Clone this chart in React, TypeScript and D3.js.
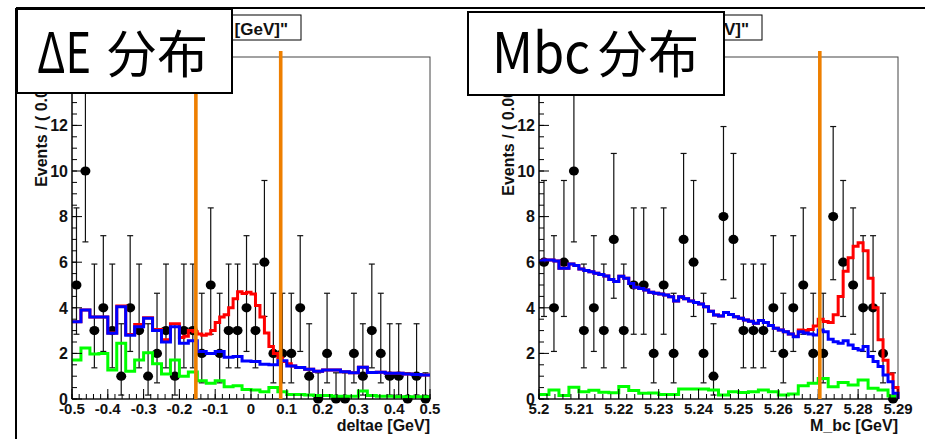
import React from 'react';
import * as d3 from 'd3';

// ---------- data ----------
const DE_COUNTS = [5, 10, 3, 4, 3, 1, 4, 3, 1, 2, 3, 1, 3, 3, 2, 5, 2, 3, 3, 4, 3, 6, 2, 2, 2, 4, 1, 0, 2, 0, 0, 2, 1, 3, 2, 1, 1, 0, 1, 0];
const DE_BLUE = [3.39, 3.9, 3.6, 3.6, 2.88, 4.05, 2.8, 3.17, 3.54, 3.0, 2.5, 3.17, 2.45, 2.55, 2.08, 2.0, 2.08, 1.83, 1.86, 1.67, 1.64, 1.52, 1.5, 1.68, 1.45, 1.38, 1.3, 1.22, 1.27, 1.27, 1.2, 1.15, 1.39, 1.16, 1.17, 1.13, 1.13, 1.1, 1.08, 1.05];
const DE_RED = [3.39, 3.39, 3.9, 3.9, 3.6, 3.6, 3.6, 3.6, 2.9, 2.9, 4.08, 4.08, 2.83, 2.83, 3.27, 3.27, 3.56, 3.56, 3.05, 3.05, 2.6, 2.6, 3.3, 3.3, 2.7, 2.75, 3.0, 2.95, 2.85, 2.8, 2.85, 3.0, 3.35, 3.6, 3.7, 4.0, 4.4, 4.7, 4.63, 4.68, 4.6, 4.1, 3.6, 2.9, 2.3, 2.0, 1.8, 1.65, 1.55, 1.45, 1.38, 1.38, 1.3, 1.3, 1.22, 1.22, 1.27, 1.27, 1.27, 1.27, 1.2, 1.2, 1.15, 1.15, 1.39, 1.39, 1.16, 1.16, 1.17, 1.17, 1.13, 1.13, 1.13, 1.13, 1.1, 1.1, 1.08, 1.08, 1.05, 1.05];
const DE_GREEN = [1.71, 2.24, 1.97, 2.0, 1.27, 2.44, 1.22, 1.71, 2.03, 1.55, 1.1, 1.71, 1.0, 1.18, 0.8, 0.69, 0.8, 0.54, 0.58, 0.42, 0.39, 0.32, 0.5, 0.32, 0.2, 0.2, 0.18, 0.15, 0.15, 0.12, 0.12, 0.12, 0.35, 0.15, 0.12, 0.12, 0.1, 0.1, 0.1, 0.1];

const MBC_COUNTS = [6, 4, 6, 10, 3, 4, 3, 7, 3, 5, 5, 2, 5, 2, 7, 6, 2, 1, 8, 7, 3, 3, 3, 4, 2, 4, 5, 2, 2, 8, 6, 5, 4, 4, 2, 0];
const MBC_BLUE = [6.05, 6.1, 6.1, 6.05, 5.73, 5.73, 5.92, 5.86, 5.7, 5.64, 5.58, 5.52, 5.46, 5.4, 5.24, 5.15, 5.38, 5.3, 5.07, 4.9, 4.85, 4.78, 4.68, 4.64, 4.6, 4.56, 4.49, 4.3, 4.48, 4.4, 4.3, 4.23, 4.17, 4.05, 3.85, 3.68, 3.64, 3.79, 3.71, 3.61, 3.54, 3.46, 3.41, 3.32, 3.44, 3.35, 3.22, 3.1, 3.03, 2.95, 2.85, 2.73, 2.95, 2.9, 2.85, 2.81, 3.03, 2.95, 2.62, 2.51, 2.44, 2.56, 2.37, 2.22, 2.15, 2.3, 1.86, 1.64, 1.42, 1.05, 0.76, 0.25];
const MBC_RED = [6.05, 6.1, 6.1, 6.05, 5.73, 5.73, 5.92, 5.86, 5.7, 5.64, 5.58, 5.52, 5.46, 5.4, 5.24, 5.15, 5.38, 5.3, 5.07, 4.9, 4.85, 4.78, 4.68, 4.64, 4.6, 4.56, 4.49, 4.3, 4.48, 4.4, 4.3, 4.23, 4.17, 4.05, 3.85, 3.68, 3.64, 3.79, 3.71, 3.61, 3.54, 3.46, 3.41, 3.32, 3.44, 3.35, 3.22, 3.1, 3.03, 2.95, 2.85, 2.75, 3.03, 3.0, 3.05, 3.2, 3.5, 3.4, 3.35, 3.7, 4.5, 5.6, 6.2, 6.7, 6.85, 6.5, 5.3, 4.0, 2.6, 1.7, 1.1, 0.5];
const MBC_GREEN = [0.2, 0.4, 0.15, 0.52, 0.32, 0.38, 0.3, 0.27, 0.55, 0.37, 0.25, 0.26, 0.2, 0.2, 0.44, 0.44, 0.44, 0.4, 0.18, 0.32, 0.28, 0.32, 0.4, 0.32, 0.18, 0.22, 0.58, 0.69, 0.9, 0.54, 0.72, 0.61, 0.83, 0.47, 0.4, 0.13];

const DE_TICKS = [-0.5, -0.4, -0.3, -0.2, -0.1, 0, 0.1, 0.2, 0.3, 0.4, 0.5];
const DE_TICK_LABELS = ['-0.5', '-0.4', '-0.3', '-0.2', '-0.1', '0', '0.1', '0.2', '0.3', '0.4', '0.5'];
const MBC_TICKS = [5.2, 5.21, 5.22, 5.23, 5.24, 5.25, 5.26, 5.27, 5.28, 5.29];
const MBC_TICK_LABELS = ['5.2', '5.21', '5.22', '5.23', '5.24', '5.25', '5.26', '5.27', '5.28', '5.29'];
const Y_TICKS = [0, 2, 4, 6, 8, 10, 12, 14];
// the "14" label is hidden under the slide label box in the reference
const Y_TICK_LABELS = ['0', '2', '4', '6', '8', '10', '12', ''];

const DE_CUTS = [-0.154, 0.083];
const MBC_CUTS = [5.2704];

// Poisson 68% intervals used for the error bars, indexed by count
const POISSON_LO = [0, 0.173, 0.708, 1.367, 2.086, 2.84, 3.62, 4.419, 5.232, 6.057, 6.891];
const POISSON_HI = [1.148, 3.3, 4.638, 5.918, 7.163, 8.382, 9.584, 10.77, 11.95, 13.11, 14.27];

const AXIS_FONT = '"Liberation Sans", Arial, Helvetica, sans-serif';
const LABEL_FONT = '"Noto Sans CJK SC", "Noto Sans", sans-serif';

type PanelProps = {
  left: number;
  right: number;
  domain: [number, number];
  counts: number[];
  blue: number[];
  red: number[];
  green: number[];
  endAtZero: boolean;
  ticks: number[];
  tickLabels: string[];
  minorStep: number;
  xTitle: string;
  yTitle: string;
  cuts: number[];
  plotTitle: string;
  titleBox: [number, number];
  labelBox: [number, number, number, number];
  labelLatin: string;
  latinX: number;
  latinW: number;
  cjkX: number;
};

const TOP = 57;
const BOTTOM = 399;

function Panel(p: PanelProps) {
  const x = d3.scaleLinear().domain(p.domain).range([p.left, p.right]);
  const y = d3.scaleLinear().domain([0, 15]).range([BOTTOM, TOP]);
  const [d0, d1] = p.domain;

  const stepPath = (vals: number[], endZero: boolean) => {
    const n = vals.length;
    const w = (d1 - d0) / n;
    const pts: [number, number][] = vals.map((v, i) => [d0 + i * w, v]);
    pts.push([d1, endZero ? 0 : vals[n - 1]]);
    return d3
      .line<[number, number]>()
      .x((d) => x(d[0]))
      .y((d) => y(d[1]))
      .curve(d3.curveStepAfter)(pts) as string;
  };

  const nb = p.counts.length;
  const bw = (d1 - d0) / nb;
  const minorTicks = d3
    .range(Math.round((d1 - d0) / p.minorStep) + 1)
    .map((i) => d0 + i * p.minorStep);
  const yMinor = d3.range(0, 15.01, 0.5);

  return (
    <g>
      {/* frame */}
      <rect x={p.left} y={TOP} width={p.right - p.left} height={BOTTOM - TOP} fill="none" stroke="#444" strokeWidth={1} />
      {/* data points */}
      {p.counts.map((c, i) => {
        const cx = x(d0 + (i + 0.5) * bw);
        const lo = y(POISSON_LO[c]);
        const hi = y(POISSON_HI[c]);
        return (
          <g key={'d' + i}>
            <line x1={cx} x2={cx} y1={lo} y2={hi} stroke="#111" strokeWidth={1.2} />
            <line x1={cx - 3} x2={cx + 3} y1={hi} y2={hi} stroke="#111" strokeWidth={1.2} />
            <line x1={cx - 3} x2={cx + 3} y1={lo} y2={lo} stroke="#111" strokeWidth={1.2} />
            <ellipse cx={cx} cy={y(c)} rx={5} ry={4.6} fill="#000" />
          </g>
        );
      })}
      {/* curves */}
      <path d={stepPath(p.green, false)} fill="none" stroke="#00ff00" strokeWidth={3} />
      <path d={stepPath(p.red, p.endAtZero)} fill="none" stroke="#ff0000" strokeWidth={3} />
      <path d={stepPath(p.blue, p.endAtZero)} fill="none" stroke="#0000ff" strokeWidth={3} />
      {/* axes */}
      <line x1={p.left} x2={p.right} y1={BOTTOM} y2={BOTTOM} stroke="#000" strokeWidth={1.2} />
      <line x1={p.left} x2={p.left} y1={TOP} y2={BOTTOM} stroke="#000" strokeWidth={1.2} />
      {minorTicks.map((t, i) => (
        <line key={'xm' + i} x1={x(t)} x2={x(t)} y1={BOTTOM} y2={BOTTOM - 5} stroke="#000" strokeWidth={1} />
      ))}
      {p.ticks.map((t, i) => (
        <g key={'xt' + i}>
          <line x1={x(t)} x2={x(t)} y1={BOTTOM} y2={BOTTOM - 10} stroke="#000" strokeWidth={1} />
          <text x={x(t)} y={414} textAnchor="middle" fontFamily={AXIS_FONT} fontWeight="bold" fontSize={15} fill="#111">
            {p.tickLabels[i]}
          </text>
        </g>
      ))}
      {yMinor.map((t, i) => (
        <line key={'ym' + i} x1={p.left} x2={p.left + 5} y1={y(t)} y2={y(t)} stroke="#000" strokeWidth={1} />
      ))}
      {Y_TICKS.map((t, i) => (
        <g key={'yt' + i}>
          <line x1={p.left} x2={p.left + 10} y1={y(t)} y2={y(t)} stroke="#000" strokeWidth={1} />
          {Y_TICK_LABELS[i] !== '' && (
            <text x={p.left - 4} y={y(t)} dy="0.36em" textAnchor="end" fontFamily={AXIS_FONT} fontWeight="bold" fontSize={16} fill="#111">
              {Y_TICK_LABELS[i]}
            </text>
          )}
        </g>
      ))}
      <text x={p.right} y={431} textAnchor="end" fontFamily={AXIS_FONT} fontWeight="bold" fontSize={16} fill="#111">
        {p.xTitle}
      </text>
      <text
        transform={`translate(${p.left - 25},25) rotate(-90)`}
        textAnchor="end"
        fontFamily={AXIS_FONT}
        fontWeight="bold"
        fontSize={16}
        fill="#111"
      >
        {p.yTitle}
      </text>
      {/* cut lines */}
      {p.cuts.map((c, i) => (
        <line key={'c' + i} x1={x(c)} x2={x(c)} y1={51} y2={BOTTOM} stroke="#ee7f00" strokeWidth={3.6} />
      ))}
      {/* plot title box */}
      <rect x={p.titleBox[0]} y={15} width={p.titleBox[1] - p.titleBox[0]} height={25} fill="#fff" stroke="#000" strokeWidth={1} />
      <text x={p.titleBox[1] - 13} y={35} textAnchor="end" fontFamily={AXIS_FONT} fontWeight="bold" fontSize={17} fill="#111">
        {p.plotTitle}
      </text>
      {/* slide label box */}
      <rect x={p.labelBox[0]} y={p.labelBox[1]} width={p.labelBox[2]} height={p.labelBox[3]} fill="#fff" stroke="#000" strokeWidth={2} />
      <text y={73} fontFamily={LABEL_FONT} fill="#000">
        <tspan x={p.latinX} fontSize={56} textLength={p.latinW} lengthAdjust="spacingAndGlyphs">
          {p.labelLatin}
        </tspan>
        <tspan x={p.cjkX} fontSize={51}>
          {' 分布'.trim()}
        </tspan>
      </text>
    </g>
  );
}

export default function App() {
  return (
    <div style={{ position: 'absolute', left: 0, top: 0 }}>
      <svg width={925} height={439} style={{ display: 'block', background: '#fff' }}>
        <rect x={0} y={0} width={925} height={439} fill="#fff" />
        <line x1={16} x2={925} y1={8} y2={8} stroke="#000" strokeWidth={2} />
        <line x1={16} x2={16} y1={8} y2={439} stroke="#000" strokeWidth={2} />
        <Panel
          left={72}
          right={430}
          domain={[-0.5, 0.5]}
          counts={DE_COUNTS}
          blue={DE_BLUE}
          red={DE_RED}
          green={DE_GREEN}
          endAtZero={false}
          ticks={DE_TICKS}
          tickLabels={DE_TICK_LABELS}
          minorStep={0.02}
          xTitle="deltae [GeV]"
          yTitle="Events / ( 0.025 GeV )"
          cuts={DE_CUTS}
          plotTitle={'A RooPlot of "deltae [GeV]"'}
          titleBox={[80, 301]}
          labelBox={[17, 9, 215, 84]}
          labelLatin="ΔE"
          latinX={37}
          latinW={54}
          cjkX={106}
        />
        <Panel
          left={539}
          right={898}
          domain={[5.2, 5.29]}
          counts={MBC_COUNTS}
          blue={MBC_BLUE}
          red={MBC_RED}
          green={MBC_GREEN}
          endAtZero={true}
          ticks={MBC_TICKS}
          tickLabels={MBC_TICK_LABELS}
          minorStep={0.002}
          xTitle="M_bc [GeV]"
          yTitle="Events / ( 0.0025 GeV )"
          cuts={MBC_CUTS}
          plotTitle={'A RooPlot of "M_bc [GeV]"'}
          titleBox={[540, 762]}
          labelBox={[468, 12, 256, 83]}
          labelLatin="Mbc"
          latinX={492}
          latinW={98}
          cjkX={597}
        />
      </svg>
    </div>
  );
}
